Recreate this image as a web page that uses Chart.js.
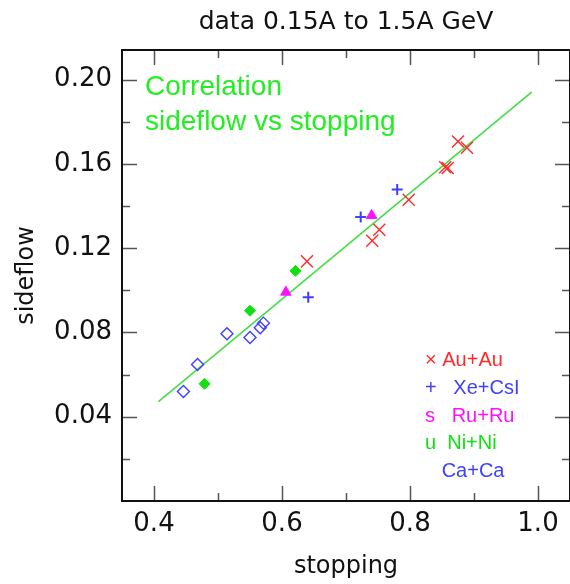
<!DOCTYPE html>
<html>
<head>
<meta charset="utf-8">
<script src="https://cdn.jsdelivr.net/npm/chart.js@4/dist/chart.umd.min.js"></script>
<style>
  html, body { margin: 0; padding: 0; background: #fff; }
  #wrap { width: 570px; height: 584px; }
</style>
</head>
<body>
<div id="wrap"><canvas id="chart" width="570" height="584"></canvas></div>
<script>
// Series (stopping, sideflow)
const auX = [0.639, 0.741, 0.752, 0.798, 0.855, 0.859, 0.875, 0.889];
const auY = [0.1137, 0.1235, 0.1287, 0.1429, 0.1584, 0.1580, 0.1706, 0.1676];

const xeX = [0.641, 0.723, 0.780];
const xeY = [0.0967, 0.1347, 0.1478];

const ruX = [0.606, 0.740];
const ruY = [0.0991, 0.1355];

const niX = [0.479, 0.550, 0.621];
const niY = [0.0556, 0.0903, 0.1092];

const caX = [0.446, 0.468, 0.514, 0.550, 0.566, 0.571];
const caY = [0.0520, 0.0648, 0.0794, 0.0776, 0.0822, 0.0844];

// straight-line fit end points
const fitX = [0.407, 0.990];
const fitY = [0.0472, 0.1940];

// axes
const xTicks = [0.4, 0.6, 0.8, 1.0];
const xMinor = [0.5, 0.7, 0.9];
const yTicks = [0.04, 0.08, 0.12, 0.16, 0.20];
const yMinor = [0.02, 0.06, 0.10, 0.14, 0.18];

const titleText = 'data 0.15A to 1.5A GeV';
const noteLines = ['Correlation', 'sideflow vs stopping'];
const legendText = ['\u00d7 Au+Au', '+   Xe+CsI', 's   Ru+Ru', 'u  Ni+Ni', '   Ca+Ca'];

const RED = '#ff2b2b';
const BLUE = '#3f3fff';
const MAGENTA = '#ff10ff';
const GREEN = '#10e010';
const NOTE_GREEN = '#22ee22';
const legendColors = [RED, BLUE, MAGENTA, GREEN, BLUE];

const pts = (xs, ys) => xs.map((x, i) => ({ x: x, y: ys[i] }));

// frame, inward ticks, title, note and legend
const decorations = {
    id: 'decorations',
    afterDraw(chart) {
        const ctx = chart.ctx;
        const a = chart.chartArea;
        const xs = chart.scales.x;
        const ys = chart.scales.y;
        ctx.save();

        ctx.strokeStyle = '#555';
        ctx.lineWidth = 1.5;
        ctx.beginPath();
        const vTick = (v, len) => {
            const px = Math.round(xs.getPixelForValue(v)) + 0.5;
            ctx.moveTo(px, a.bottom); ctx.lineTo(px, a.bottom - len);
            ctx.moveTo(px, a.top); ctx.lineTo(px, a.top + len);
        };
        const hTick = (v, len) => {
            const py = Math.round(ys.getPixelForValue(v)) + 0.5;
            ctx.moveTo(a.left, py); ctx.lineTo(a.left + len, py);
            ctx.moveTo(a.right, py); ctx.lineTo(a.right - len, py);
        };
        xTicks.forEach(v => vTick(v, 15));
        xMinor.forEach(v => vTick(v, 8));
        yTicks.forEach(v => hTick(v, 15));
        yMinor.forEach(v => hTick(v, 8));
        ctx.stroke();

        ctx.strokeStyle = '#111';
        ctx.lineWidth = 2;
        ctx.strokeRect(a.left, a.top, a.right - a.left, a.bottom - a.top);

        ctx.fillStyle = '#111';
        ctx.font = "25px 'DejaVu Sans'";
        ctx.textAlign = 'center';
        ctx.textBaseline = 'alphabetic';
        ctx.fillText(titleText, (a.left + a.right) / 2, 29);

        ctx.textAlign = 'left';
        ctx.fillStyle = NOTE_GREEN;
        ctx.font = "28px 'Liberation Sans'";
        noteLines.forEach((t, i) => ctx.fillText(t, a.left + 23, 95 + i * 35));

        ctx.font = "20px 'Liberation Sans'";
        legendText.forEach((t, i) => {
            ctx.fillStyle = legendColors[i];
            ctx.fillText(t, 425, 366 + i * 27.75);
        });
        ctx.restore();
    }
};

const ctx = document.getElementById('chart').getContext('2d');
new Chart(ctx, {
    type: 'scatter',
    data: {
        datasets: [
            { label: 'Au+Au', data: pts(auX, auY), pointStyle: 'crossRot', radius: 8.5,
              borderColor: RED, borderWidth: 1.4 },
            { label: 'Xe+CsI', data: pts(xeX, xeY), pointStyle: 'cross', radius: 5.5,
              borderColor: BLUE, borderWidth: 2 },
            { label: 'Ru+Ru', data: pts(ruX, ruY), pointStyle: 'triangle', radius: 6,
              borderColor: MAGENTA, backgroundColor: MAGENTA, borderWidth: 1 },
            { label: 'Ni+Ni', data: pts(niX, niY), pointStyle: 'rectRot', radius: 5.5,
              borderColor: GREEN, backgroundColor: GREEN, borderWidth: 1 },
            { label: 'Ca+Ca', data: pts(caX, caY), pointStyle: 'rectRot', radius: 6,
              borderColor: BLUE, backgroundColor: 'rgba(0,0,0,0)', borderWidth: 1.4 },
            { label: 'fit', type: 'line', data: pts(fitX, fitY), showLine: true,
              borderColor: '#44dd44', borderWidth: 1.6, pointRadius: 0, fill: false }
        ]
    },
    options: {
        responsive: false,
        animation: false,
        layout: { autoPadding: false, padding: { top: 50, left: 0, right: -2, bottom: 0 } },
        plugins: {
            legend: { display: false },
            title: { display: false },
            tooltip: { enabled: false }
        },
        scales: {
            x: {
                type: 'linear', min: 0.35, max: 1.05,
                afterBuildTicks: s => { s.ticks = xTicks.map(v => ({ value: v })); },
                afterFit: s => { s.height = 83; s.paddingLeft = 0; s.paddingRight = 0; },
                grid: { display: false, drawTicks: false },
                border: { display: false },
                ticks: { color: '#111', padding: 8, font: { family: 'DejaVu Sans', size: 26 },
                         callback: v => v.toFixed(1), maxRotation: 0, autoSkip: false },
                title: { display: true, text: 'stopping', color: '#111', padding: { top: 0, bottom: 3 },
                         font: { family: 'DejaVu Sans', size: 24 } }
            },
            y: {
                type: 'linear', min: 0, max: 0.214,
                afterBuildTicks: s => { s.ticks = yTicks.map(v => ({ value: v })); },
                afterFit: s => { s.width = 122; s.paddingTop = 0; s.paddingBottom = 0; },
                grid: { display: false, drawTicks: false },
                border: { display: false },
                ticks: { color: '#111', padding: 10, font: { family: 'DejaVu Sans', size: 26 },
                         callback: v => v.toFixed(2), autoSkip: false },
                title: { display: true, text: 'sideflow', color: '#111', padding: { top: 12, bottom: 0 },
                         font: { family: 'DejaVu Sans', size: 24 } }
            }
        }
    },
    plugins: [decorations]
});
</script>
</body>
</html>
